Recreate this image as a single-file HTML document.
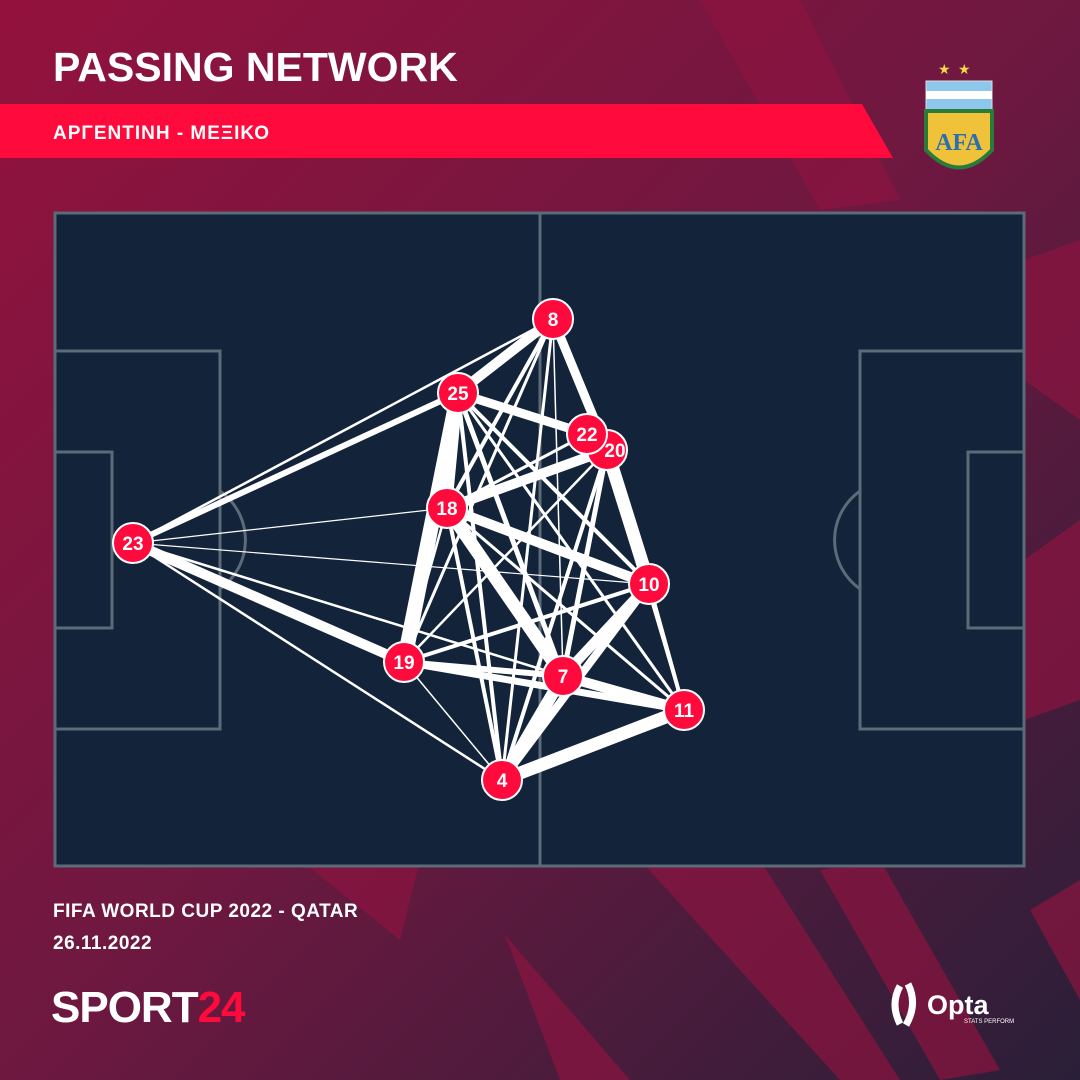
<!DOCTYPE html>
<html><head><meta charset="utf-8"><style>
body{margin:0;width:1080px;height:1080px;overflow:hidden;font-family:"Liberation Sans",sans-serif}
svg{display:block}
</style></head><body>
<svg width="1080" height="1080" viewBox="0 0 1080 1080" xmlns="http://www.w3.org/2000/svg">
<defs>
<linearGradient id="bg" x1="0" y1="0" x2="1" y2="1">
<stop offset="0" stop-color="#93123d"/><stop offset="0.5" stop-color="#6e1840"/><stop offset="1" stop-color="#2a1f38"/>
</linearGradient>
</defs>
<rect width="1080" height="1080" fill="url(#bg)"/>
<g fill="#8c1440" opacity="0.7">
<polygon points="300,860 420,860 400,940"/>
<polygon points="640,860 760,860 900,1080 840,1080"/>
<polygon points="820,870 880,860 1000,1070 940,1080"/>
<polygon points="505,935 560,1080 630,1080"/>
<polygon points="1030,910 1080,880 1080,1000"/>
<polygon points="1024,260 1080,240 1080,420 1024,380"/>
<polygon points="1024,560 1080,520 1080,700 1024,720"/>
<polygon points="700,0 800,0 900,200 820,210"/>
</g>
<polygon points="0,104 862,104 893,158 0,158" fill="#ff0a3c"/>
<text x="53" y="81" fill="#fff" font-size="41" font-weight="bold">PASSING NETWORK</text>
<text x="53" y="139" fill="#fff" font-size="19" font-weight="bold" letter-spacing="1">ΑΡΓΕΝΤΙΝΗ - ΜΕΞΙΚΟ</text>
<text x="938" y="74" fill="#f3d64a" font-size="14">★</text><text x="958" y="74" fill="#f3d64a" font-size="14">★</text>
<rect x="926" y="81" width="66" height="30" fill="#8dc8ec" stroke="#ddd"/>
<rect x="926" y="91" width="66" height="8" fill="#fff"/>
<path d="M926 111 H992 V150 Q959 185 926 150 Z" fill="#f0c23a" stroke="#2a7a3a" stroke-width="4"/>
<text x="959" y="150" fill="#2a6fb0" font-size="24" font-weight="bold" text-anchor="middle" font-family="Liberation Serif,serif">AFA</text>
<rect x="55" y="213" width="969" height="653" fill="#12233a" stroke="#5b6b78" stroke-width="3"/>
<g stroke="#5b6b78" stroke-width="3" fill="none">
<line x1="540" y1="213" x2="540" y2="866"/>
<rect x="55" y="351" width="165" height="378"/>
<rect x="55" y="452" width="57" height="176"/>
<rect x="860" y="351" width="164" height="378"/>
<rect x="968" y="452" width="56" height="176"/>
<path d="M220 491 A60 60 0 0 1 220 589"/>
<path d="M860 491 A60 60 0 0 0 860 589"/>
</g>
<g stroke="#fff" stroke-linecap="round">
<line x1="133" y1="543" x2="553" y2="319" stroke-width="2.5"/>
<line x1="133" y1="543" x2="458" y2="393" stroke-width="6"/>
<line x1="133" y1="543" x2="447" y2="508" stroke-width="1.2"/>
<line x1="133" y1="543" x2="404" y2="662" stroke-width="10"/>
<line x1="133" y1="543" x2="502" y2="780" stroke-width="2.5"/>
<line x1="133" y1="543" x2="563" y2="676" stroke-width="2.5"/>
<line x1="133" y1="543" x2="649" y2="584" stroke-width="1.2"/>
<line x1="553" y1="319" x2="458" y2="393" stroke-width="10"/>
<line x1="553" y1="319" x2="607" y2="450" stroke-width="9"/>
<line x1="553" y1="319" x2="447" y2="508" stroke-width="4"/>
<line x1="553" y1="319" x2="404" y2="662" stroke-width="3"/>
<line x1="553" y1="319" x2="563" y2="676" stroke-width="1.5"/>
<line x1="553" y1="319" x2="502" y2="780" stroke-width="3"/>
<line x1="458" y1="393" x2="447" y2="508" stroke-width="10"/>
<line x1="458" y1="393" x2="404" y2="662" stroke-width="15"/>
<line x1="458" y1="393" x2="587" y2="434" stroke-width="9"/>
<line x1="458" y1="393" x2="563" y2="676" stroke-width="5"/>
<line x1="458" y1="393" x2="649" y2="584" stroke-width="4"/>
<line x1="458" y1="393" x2="684" y2="710" stroke-width="3"/>
<line x1="458" y1="393" x2="502" y2="780" stroke-width="4"/>
<line x1="447" y1="508" x2="607" y2="450" stroke-width="10"/>
<line x1="447" y1="508" x2="587" y2="434" stroke-width="3"/>
<line x1="447" y1="508" x2="649" y2="584" stroke-width="10"/>
<line x1="447" y1="508" x2="563" y2="676" stroke-width="13"/>
<line x1="447" y1="508" x2="502" y2="780" stroke-width="4"/>
<line x1="447" y1="508" x2="684" y2="710" stroke-width="3"/>
<line x1="447" y1="508" x2="404" y2="662" stroke-width="2.5"/>
<line x1="607" y1="450" x2="649" y2="584" stroke-width="13"/>
<line x1="607" y1="450" x2="563" y2="676" stroke-width="5"/>
<line x1="607" y1="450" x2="502" y2="780" stroke-width="4"/>
<line x1="607" y1="450" x2="684" y2="710" stroke-width="3"/>
<line x1="607" y1="450" x2="404" y2="662" stroke-width="2.5"/>
<line x1="649" y1="584" x2="563" y2="676" stroke-width="10"/>
<line x1="649" y1="584" x2="502" y2="780" stroke-width="8"/>
<line x1="649" y1="584" x2="404" y2="662" stroke-width="4"/>
<line x1="649" y1="584" x2="684" y2="710" stroke-width="4"/>
<line x1="404" y1="662" x2="563" y2="676" stroke-width="6"/>
<line x1="404" y1="662" x2="684" y2="710" stroke-width="7"/>
<line x1="404" y1="662" x2="502" y2="780" stroke-width="1.5"/>
<line x1="563" y1="676" x2="684" y2="710" stroke-width="10"/>
<line x1="563" y1="676" x2="502" y2="780" stroke-width="12"/>
<line x1="684" y1="710" x2="502" y2="780" stroke-width="13"/>
</g>
<g fill="#ff0a3c" stroke="#fff" stroke-width="2">
<circle cx="553" cy="319" r="20"/><circle cx="458" cy="393" r="20"/>
<circle cx="607" cy="450" r="20"/>
<circle cx="447" cy="508" r="20"/><circle cx="133" cy="543" r="20"/>
<circle cx="649" cy="584" r="20"/><circle cx="404" cy="662" r="20"/>
<circle cx="563" cy="676" r="20"/><circle cx="684" cy="710" r="20"/>
<circle cx="502" cy="780" r="20"/>
</g>
<g fill="#fff" font-size="19" font-weight="bold" text-anchor="middle">
<text x="553" y="326">8</text><text x="458" y="400">25</text>
<text x="615" y="457">20</text>
</g>
<circle cx="587" cy="434" r="20" fill="#ff0a3c" stroke="#fff" stroke-width="2"/>
<g fill="#fff" font-size="19" font-weight="bold" text-anchor="middle">
<text x="587" y="441">22</text>
<text x="447" y="515">18</text><text x="133" y="550">23</text>
<text x="649" y="591">10</text><text x="404" y="669">19</text>
<text x="563" y="683">7</text><text x="684" y="717">11</text><text x="502" y="787">4</text>
</g>
<text x="53" y="917" fill="#fff" font-size="19" font-weight="bold" letter-spacing="0.5">FIFA WORLD CUP 2022 - QATAR</text>
<text x="53" y="949" fill="#fff" font-size="19" font-weight="bold" letter-spacing="0.5">26.11.2022</text>
<text x="51" y="1022" fill="#fff" font-size="44" font-weight="bold" letter-spacing="-1">SPORT<tspan fill="#ff0a3c">24</tspan></text>
<path d="M900 986 Q890 1004 900 1024 M908 984 Q918 1004 906 1025" stroke="#fff" stroke-width="7" fill="none"/>
<text x="927" y="1014" fill="#fff" font-size="27" font-weight="bold">Opta</text>
<text x="964" y="1023" fill="#fff" font-size="6">STATS PERFORM</text>
</svg>
</body></html>
